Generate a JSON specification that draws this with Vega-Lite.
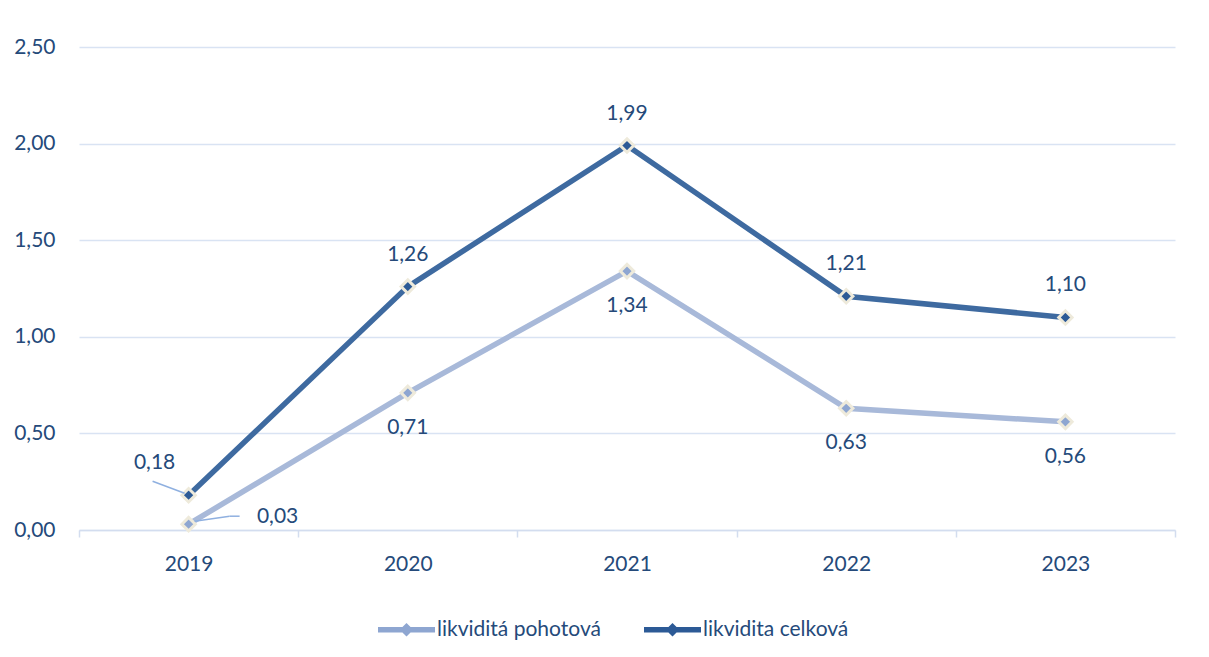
{
  "$schema": "https://vega.github.io/schema/vega-lite/v6.json",
  "width": 1096,
  "height": 483,
  "autosize": {"type": "none"},
  "padding": {"left": 79, "top": 47, "right": 34, "bottom": 127},
  "background": "#ffffff",
  "config": {
    "locale": {"number": {"decimal": ",", "thousands": "\u00a0", "grouping": [3], "currency": ["", " Kč"]}},
    "view": {"stroke": null},
    "font": "Lato",
    "text": {"font": "Lato", "fontSize": 21, "fill": "#254a7a"}
  },
  "data": {
    "values": [
      {"year": "2019", "series": "likviditá pohotová", "value": 0.03},
      {"year": "2020", "series": "likviditá pohotová", "value": 0.71},
      {"year": "2021", "series": "likviditá pohotová", "value": 1.34},
      {"year": "2022", "series": "likviditá pohotová", "value": 0.63},
      {"year": "2023", "series": "likviditá pohotová", "value": 0.56},
      {"year": "2019", "series": "likvidita celková", "value": 0.18},
      {"year": "2020", "series": "likvidita celková", "value": 1.26},
      {"year": "2021", "series": "likvidita celková", "value": 1.99},
      {"year": "2022", "series": "likvidita celková", "value": 1.21},
      {"year": "2023", "series": "likvidita celková", "value": 1.10}
    ]
  },
  "encoding": {
    "x": {
      "field": "year", "type": "ordinal", "bandPosition": 0.5,
      "scale": {"type": "band", "paddingInner": 0, "paddingOuter": 0},
      "axis": {
        "title": null, "labelAngle": 0, "labelFont": "Lato", "labelFontSize": 21, "labelColor": "#254a7a",
        "domainColor": "#d3ddef", "domainWidth": 1.5, "tickColor": "#d3ddef", "tickWidth": 1.5, "tickSize": 7,
        "tickBand": "extent", "labelPadding": 16, "grid": false
      }
    },
    "y": {
      "field": "value", "type": "quantitative",
      "scale": {"domain": [0, 2.5], "nice": false},
      "axis": {
        "title": null, "values": [0, 0.5, 1, 1.5, 2, 2.5], "format": ".2f",
        "labelFont": "Lato", "labelFontSize": 21, "labelColor": "#254a7a",
        "domain": false, "ticks": false, "labelPadding": 24,
        "grid": true, "gridColor": "#d9e3f3", "gridWidth": 1.5
      }
    }
  },
  "layer": [
    {
      "mark": {"type": "line", "strokeWidth": 5.5},
      "encoding": {
        "stroke": {
          "field": "series", "type": "nominal",
          "scale": {"domain": ["likviditá pohotová", "likvidita celková"], "range": ["#a8b9d9", "#3e6aa0"]},
          "legend": {
            "title": null, "orient": "none", "legendX": 299, "legendY": 554, "direction": "horizontal",
            "symbolType": "M-1,-0.1L1,-0.1L1,0.1L-1,0.1Z M0,-0.24L0.24,0L0,0.24L-0.24,0Z",
            "symbolSize": 3249, "symbolStrokeWidth": 0, "symbolOpacity": 1,
            "labelFont": "Lato", "labelFontSize": 21, "labelColor": "#254a7a", "labelOffset": 2, "labelLimit": 400,
            "columnPadding": 43
          }
        }
      }
    },
    {
      "mark": {"type": "point", "shape": "diamond", "filled": true, "size": 180, "stroke": "#eeeadb", "strokeWidth": 3, "opacity": 1},
      "encoding": {
        "fill": {
          "field": "series", "type": "nominal",
          "scale": {"domain": ["likviditá pohotová", "likvidita celková"], "range": ["#8ea6d1", "#2c5a96"]},
          "legend": {
            "title": null, "orient": "none", "legendX": 299, "legendY": 554, "direction": "horizontal",
            "symbolType": "M-1,-0.1L1,-0.1L1,0.1L-1,0.1Z M0,-0.24L0.24,0L0,0.24L-0.24,0Z",
            "symbolSize": 3249, "symbolStrokeWidth": 0, "symbolOpacity": 1,
            "labelFont": "Lato", "labelFontSize": 21, "labelColor": "#254a7a", "labelOffset": 2, "labelLimit": 400,
            "columnPadding": 43
          }
        }
      }
    },
    {
      "transform": [{"filter": "datum.series === 'likvidita celková' && datum.year !== '2019'"}],
      "mark": {"type": "text", "dy": -32},
      "encoding": {"text": {"field": "value", "type": "quantitative", "format": ".2f"}}
    },
    {
      "transform": [{"filter": "datum.series === 'likvidita celková' && datum.year === '2019'"}],
      "mark": {"type": "text", "dy": -32, "dx": -34},
      "encoding": {"text": {"field": "value", "type": "quantitative", "format": ".2f"}}
    },
    {
      "transform": [{"filter": "datum.series === 'likviditá pohotová' && datum.year !== '2019'"}],
      "mark": {"type": "text", "dy": 35},
      "encoding": {"text": {"field": "value", "type": "quantitative", "format": ".2f"}}
    },
    {
      "transform": [{"filter": "datum.series === 'likviditá pohotová' && datum.year === '2019'"}],
      "mark": {"type": "text", "dy": -7, "dx": 89},
      "encoding": {"text": {"field": "value", "type": "quantitative", "format": ".2f"}}
    },
    {
      "transform": [{"filter": "datum.series === 'likvidita celková' && datum.year === '2019'"}],
      "mark": {"type": "rule", "stroke": "#8fb0e0", "strokeWidth": 1.5, "xOffset": -36, "x2Offset": -4, "yOffset": -14, "y2Offset": -2},
      "encoding": {
        "x2": {"field": "year", "bandPosition": 0.5},
        "y2": {"field": "value"}
      }
    },
    {
      "transform": [{"filter": "datum.series === 'likviditá pohotová' && datum.year === '2019'"}],
      "mark": {"type": "rule", "stroke": "#8fb0e0", "strokeWidth": 1.5, "xOffset": 6, "x2Offset": 41, "yOffset": -3, "y2Offset": -8},
      "encoding": {
        "x2": {"field": "year", "bandPosition": 0.5},
        "y2": {"field": "value"}
      }
    },
    {
      "transform": [{"filter": "datum.series === 'likviditá pohotová' && datum.year === '2019'"}],
      "mark": {"type": "rule", "stroke": "#8fb0e0", "strokeWidth": 1.5, "xOffset": 41, "x2Offset": 51, "yOffset": -8, "y2Offset": -8},
      "encoding": {
        "x2": {"field": "year", "bandPosition": 0.5},
        "y2": {"field": "value"}
      }
    }
  ]
}
